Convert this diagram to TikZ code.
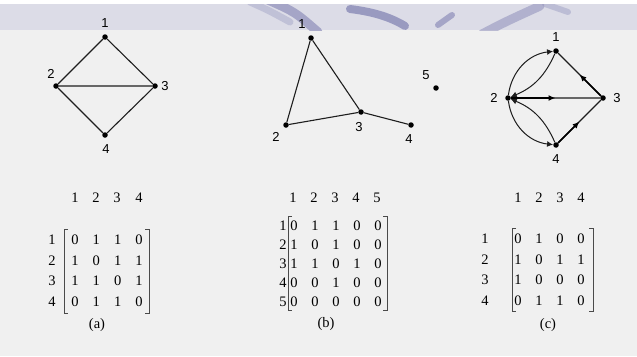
\documentclass[tikz,border=0pt]{standalone}
\usepackage{fontspec}
\setmainfont{Liberation Serif}
\newfontfamily\arialf{Liberation Sans}
\usetikzlibrary{arrows.meta,calc}
\definecolor{bgc}{HTML}{F0F0F0}
\definecolor{bandc}{HTML}{DCDCE7}
\definecolor{strokec}{HTML}{8E8FBA}
\definecolor{edgec}{HTML}{1E1E1E}
\definecolor{brkc}{HTML}{4A4A4A}
\begin{document}
\begin{tikzpicture}[x=1pt,y=-1pt,
  vtx/.style={circle,fill=black,inner sep=0pt,minimum size=5.5pt},
  lbl/.style={font=\arialf\fontsize{13}{15}\selectfont,inner sep=0pt},
  ent/.style={font=\fontsize{14.5}{17}\selectfont,inner sep=0pt},
  edge/.style={draw=edgec,line width=1.1pt},
  thick edge/.style={draw=black,line width=1.7pt,-{Latex[length=7pt,width=6pt]}},
  curved edge/.style={draw=edgec,line width=1pt,-{Latex[length=6pt,width=6pt]}},
  brk/.style={draw=brkc,line width=0.8pt},
  deco/.style={draw=strokec,line cap=round,opacity=0.7}]
\useasboundingbox (0,0) rectangle (637,356);
% background
\fill[bgc] (0,0) rectangle (637,356);
\fill[white] (0,0) rectangle (637,4);
\fill[bandc] (0,4) rectangle (637,30);
% decorative strokes in the band
\begin{scope}
\clip (0,4) rectangle (637,30);
\draw[deco,line width=7pt,opacity=0.35] (250,2) .. controls (268,10) .. (290,22);
\draw[deco,line width=9pt] (268,0) .. controls (295,12) .. (318,32);
\draw[deco,line width=8pt,opacity=0.85] (350,9) .. controls (375,12) and (392,18) .. (405,26);
\draw[deco,line width=6pt] (438,25) -- (452,15);
\draw[deco,line width=9pt,opacity=0.55] (482,34) .. controls (505,22) .. (540,6);
\draw[deco,line width=6pt,opacity=0.4] (545,4) -- (568,12);
\end{scope}
% ---------- graph (a)
\node[vtx] (a1) at (105,37) {};
\node[vtx] (a2) at (56,86) {};
\node[vtx] (a3) at (155,86) {};
\node[vtx] (a4) at (105,135) {};
\node[lbl] (la1) at (105,23) {1};
\node[lbl] (la2) at (51,74) {2};
\node[lbl] (la3) at (165,86) {3};
\node[lbl] (la4) at (106,149) {4};
\draw[edge] (a1)--(a2) (a1)--(a3) (a2)--(a3) (a2)--(a4) (a3)--(a4);
% ---------- graph (b)
\node[vtx] (b1) at (311,38) {};
\node[vtx] (b2) at (286,125) {};
\node[vtx] (b3) at (361,112) {};
\node[vtx] (b4) at (411,125) {};
\node[vtx] (b5) at (436,88) {};
\node[lbl] (lb1) at (302,24) {1};
\node[lbl] (lb2) at (276,137) {2};
\node[lbl] (lb3) at (359,127) {3};
\node[lbl] (lb4) at (409,139) {4};
\node[lbl] (lb5) at (426,75) {5};
\draw[edge] (b1)--(b2) (b1)--(b3) (b2)--(b3) (b3)--(b4);
% ---------- graph (c)
\node[vtx] (c1) at (556,51) {};
\node[vtx] (c2) at (508,98) {};
\node[vtx] (c3) at (603,98) {};
\node[vtx] (c4) at (556,145) {};
\node[lbl] (lc1) at (556,37) {1};
\node[lbl] (lc2) at (494,98) {2};
\node[lbl] (lc3) at (617,98) {3};
\node[lbl] (lc4) at (556,159) {4};
\draw[edge] (c2)--(c3) (c3)--(c1) (c4)--(c3);
\coordinate (m23) at ($(c2)!0.5!(c3)$);
\coordinate (m31) at ($(c3)!0.5!(c1)$);
\coordinate (m43) at ($(c4)!0.5!(c3)$);
\draw[thick edge] (c2) -- (m23);
\draw[thick edge] (c3) -- (m31);
\draw[thick edge] (c4) -- (m43);
\draw[curved edge] (c2) to[bend left=38] (c1);
\draw[curved edge] (c1) to[bend left=22] (c2);
\draw[curved edge] (c2) to[bend right=38] (c4);
\draw[curved edge] (c4) to[bend right=22] (c2);
% ---------- matrix (a)
\foreach \x [count=\c] in {75,96,117,139} {
  \node[ent] (ha\c) at (\x,198) {\c};
}
\foreach \r/\row in {1/{0,1,1,0},2/{1,0,1,1},3/{1,1,0,1},4/{0,1,1,0}} {
  \pgfmathsetmacro{\yy}{240+(\r-1)*20.5}
  \node[ent] (ra\r) at (52,\yy) {\r};
  \foreach \v [count=\c] in \row {
    \pgfmathsetmacro{\xx}{75+(\c-1)*21.33}
    \node[ent] (ma\r\c) at (\xx,\yy) {\v};
  }
}
\draw[brk] (68,229) -- (64,229) -- (64,313) -- (68,313);
\draw[brk] (145,229) -- (149,229) -- (149,313) -- (145,313);
\node[ent] (capa) at (97,325) {(a)};
% ---------- matrix (b)
\foreach \x [count=\c] in {293,314,335,356,377} {
  \node[ent] (hb\c) at (\x,198) {\c};
}
\foreach \r/\row in {1/{0,1,1,0,0},2/{1,0,1,0,0},3/{1,1,0,1,0},4/{0,0,1,0,0},5/{0,0,0,0,0}} {
  \pgfmathsetmacro{\yy}{226+(\r-1)*19}
  \node[ent] (rb\r) at (283,\yy) {\r};
  \foreach \v [count=\c] in \row {
    \pgfmathsetmacro{\xx}{294+(\c-1)*21}
    \node[ent] (mb\r\c) at (\xx,\yy) {\v};
  }
}
\draw[brk] (292,216) -- (288,216) -- (288,310) -- (292,310);
\draw[brk] (383,216) -- (387,216) -- (387,310) -- (383,310);
\node[ent] (capb) at (326,324) {(b)};
% ---------- matrix (c)
\foreach \x [count=\c] in {518,539,560,581} {
  \node[ent] (hc\c) at (\x,198) {\c};
}
\foreach \r/\row in {1/{0,1,0,0},2/{1,0,1,1},3/{1,0,0,0},4/{0,1,1,0}} {
  \pgfmathsetmacro{\yy}{239+(\r-1)*20.5}
  \node[ent] (rc\r) at (485,\yy) {\r};
  \foreach \v [count=\c] in \row {
    \pgfmathsetmacro{\xx}{518+(\c-1)*21}
    \node[ent] (mc\r\c) at (\xx,\yy) {\v};
  }
}
\draw[brk] (516,228) -- (512,228) -- (512,311) -- (516,311);
\draw[brk] (589,228) -- (593,228) -- (593,311) -- (589,311);
\node[ent] (capc) at (548,325) {(c)};
\end{tikzpicture}
\end{document}
